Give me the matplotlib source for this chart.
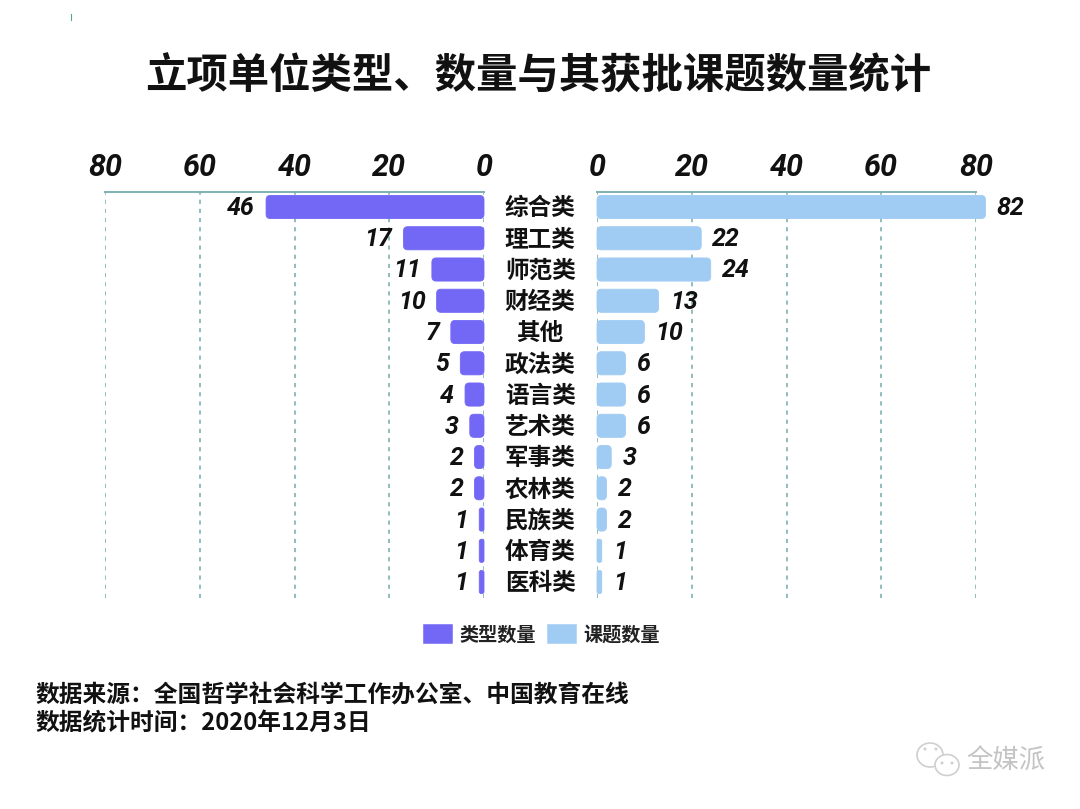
import matplotlib
matplotlib.use('Agg')
import matplotlib.pyplot as plt
from matplotlib.lines import Line2D
from matplotlib.patches import Ellipse, FancyBboxPatch, Patch

plt.rcParams['font.family'] = ['Noto Sans CJK SC', 'DejaVu Sans']

# 数据
categories = ['综合类', '理工类', '师范类', '财经类', '其他', '政法类', '语言类',
              '艺术类', '军事类', '农林类', '民族类', '体育类', '医科类']
type_counts = [46, 17, 11, 10, 7, 5, 4, 3, 2, 2, 1, 1, 1]
project_counts = [82, 22, 24, 13, 10, 6, 6, 6, 3, 2, 2, 1, 1]
ticks = [0, 20, 40, 60, 80]

title = '立项单位类型、数量与其获批课题数量统计'
source_lines = ['数据来源：全国哲学社会科学工作办公室、中国教育在线',
                '数据统计时间：2020年12月3日']

PURPLE = '#7268f5'
BLUE = '#a0cbf3'
TEAL = '#7fb0b0'
INK = '#111111'
W, H = 1080, 809
NUM_FONT = ['Roboto', 'DejaVu Sans']
BAR_H = 0.74


def axes_rect(x0, x1, y0, y1):
    """像素坐标转换为 figure 坐标"""
    return [x0 / W, 1 - y1 / H, (x1 - x0) / W, (y1 - y0) / H]


def draw_side(ax, values, color, xlim, ha, offset):
    ax.set_xlim(*xlim)
    ax.set_ylim(12.51, -0.48)
    # y 方向一个单位约 31.2px，x 方向约 4.74px，圆角要按比例修正
    aspect = 31.2 / 4.74
    for i, v in enumerate(values):
        r = min(0.9, v * 0.45)
        box = FancyBboxPatch((0, i - BAR_H / 2), v, BAR_H,
                             boxstyle=f'round,pad=0,rounding_size={r}',
                             mutation_aspect=1 / aspect, facecolor=color,
                             edgecolor=color, linewidth=0.6, clip_on=False, zorder=3)
        ax.add_patch(box)
        ax.annotate(str(v), (v, i), xytext=(offset, -0.7), textcoords='offset points',
                    ha=ha, va='center', fontsize=18, style='italic', weight='bold',
                    family=NUM_FONT, color=INK, zorder=4, annotation_clip=False)
    ax.set_xticks(ticks)
    ax.set_yticks([])
    ax.xaxis.tick_top()
    ax.tick_params(axis='x', length=0, pad=7)
    for label in ax.get_xticklabels():
        label.set_fontfamily(NUM_FONT)
        label.set_fontsize(22)
        label.set_fontstyle('italic')
        label.set_fontweight('bold')
        label.set_color(INK)
    ax.grid(axis='x', color=TEAL, linestyle=(0, (2.5, 3)), linewidth=1.2, zorder=0)
    for side in ['left', 'right', 'bottom']:
        ax.spines[side].set_visible(False)
    ax.spines['top'].set_color(TEAL)
    ax.spines['top'].set_linewidth(1.4)
    ax.patch.set_alpha(0)


fig = plt.figure(figsize=(W / 100, H / 100), dpi=100)

ax_left = fig.add_axes(axes_rect(105, 484, 192, 598))
draw_side(ax_left, type_counts, PURPLE, (80, 0), 'right', -8)

ax_right = fig.add_axes(axes_rect(597, 976, 192, 598))
draw_side(ax_right, project_counts, BLUE, (0, 80), 'left', 8)

# 类别名称放在两个坐标轴中间
for i, name in enumerate(categories):
    ax_left.annotate(name, xy=(1, i), xycoords=ax_left.get_yaxis_transform(),
                     xytext=(40.5, -0.7), textcoords='offset points', ha='center', va='center',
                     fontsize=17, fontweight='bold', color=INK, annotation_clip=False)

fig.text(538 / W, 1 - 77 / H, title, ha='center', va='center',
         fontsize=29.8, fontweight='bold', color=INK)

handles = [Patch(facecolor=PURPLE, edgecolor=PURPLE, linewidth=4, joinstyle='round'),
           Patch(facecolor=BLUE, edgecolor=BLUE, linewidth=4, joinstyle='round')]
fig.legend(handles, ['类型数量', '课题数量'], loc='center', bbox_to_anchor=(543 / W, 1 - 635 / H),
           ncol=2, frameon=False, handlelength=1.25, handleheight=0.8,
           handletextpad=0.5, columnspacing=0.75, labelcolor='#222222',
           prop={'size': 13.8, 'weight': 'bold'})

for y, line in zip([695, 723], source_lines):
    fig.text(35 / W, 1 - y / H, line, ha='left', va='center', fontsize=17.1,
             fontweight='bold', color=INK)

# 水印
fig.text(966 / W, 1 - 761 / H, '全媒派', ha='left', va='center', fontsize=19,
         color='#c4c4c4', fontweight='light')
for cx, cy, w, h in [(930, 755, 26, 24), (947, 765, 24, 21)]:
    fig.add_artist(Ellipse((cx / W, 1 - cy / H), w / W, h / H, transform=fig.transFigure,
                           facecolor='white', edgecolor='#cfcfcf', linewidth=1.2))
for cx, cy in [(925, 749), (936, 749), (942, 763), (952, 763)]:
    fig.add_artist(Ellipse((cx / W, 1 - cy / H), 3 / W, 3 / H, transform=fig.transFigure,
                           facecolor='#cfcfcf', edgecolor='none'))

# 左上角的小色点
fig.add_artist(Line2D([71 / W, 71 / W], [1 - 14 / H, 1 - 20 / H], color='#4fa89a', linewidth=0.8))

fig.savefig('out.png', dpi=100, facecolor='white')
